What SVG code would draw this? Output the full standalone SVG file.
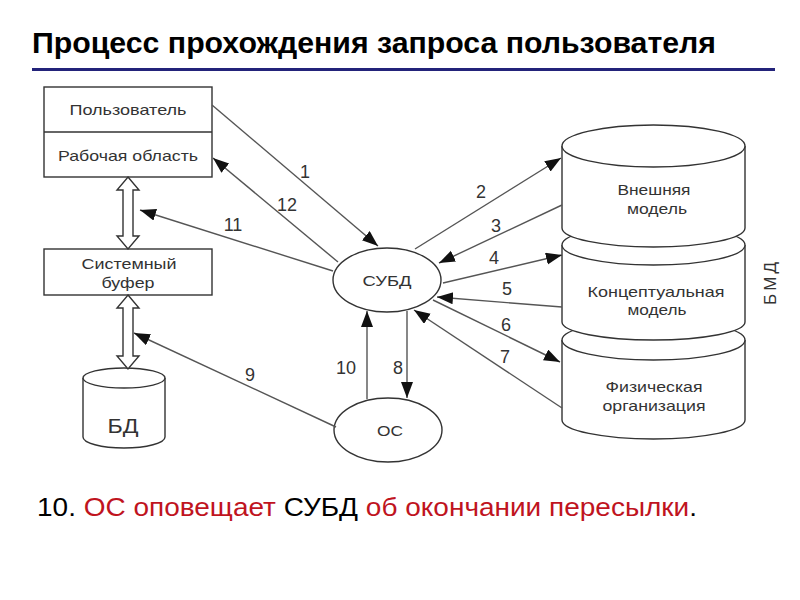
<svg xmlns="http://www.w3.org/2000/svg" width="800" height="600" viewBox="0 0 800 600">
<style>
.title{font-family:"Liberation Sans",Arial,sans-serif;font-weight:bold;font-size:29px;fill:#000}
.lbl{font-family:"Liberation Sans",Arial,sans-serif;font-size:15px;fill:#333;text-anchor:middle}
.num{font-family:"Liberation Sans",Arial,sans-serif;font-size:18px;fill:#333;text-anchor:middle}
.shape{fill:#fff;stroke:#333;stroke-width:1.4}
.conn{fill:none;stroke:#555;stroke-width:1.4;marker-end:url(#ah)}
.cap{font-family:"Liberation Sans",Arial,sans-serif;font-size:26px;fill:#000}
.red{fill:#c0141e}
</style>
<defs>
<marker id="ah" markerUnits="userSpaceOnUse" markerWidth="18" markerHeight="14" refX="16" refY="6" orient="auto">
<path d="M0,0 L16,6 L0,12 z" fill="#111"/>
</marker>
</defs>
<rect width="800" height="600" fill="#fff"/>
<text class="title" x="32" y="53" textLength="684" lengthAdjust="spacingAndGlyphs">Процесс прохождения запроса пользователя</text>
<line x1="32" y1="69.5" x2="775" y2="69.5" stroke="#23237a" stroke-width="3"/>

<g id="user-box">
<rect class="shape" x="44" y="87" width="168" height="90"/>
<line x1="44" y1="132" x2="212" y2="132" stroke="#333" stroke-width="1.4"/>
<text class="lbl" x="128" y="115" textLength="117" lengthAdjust="spacingAndGlyphs">Пользователь</text>
<text class="lbl" x="128" y="161" textLength="140" lengthAdjust="spacingAndGlyphs">Рабочая область</text>
</g>
<g id="sysbuf">
<rect class="shape" x="44" y="249" width="168" height="46"/>
<text class="lbl" x="129" y="269" textLength="95" lengthAdjust="spacingAndGlyphs">Системный</text>
<text class="lbl" x="128" y="288" textLength="53" lengthAdjust="spacingAndGlyphs">буфер</text>
</g>
<g id="bd">
<path class="shape" d="M83,378 L83,437 A41,11 0 0 0 165,437 L165,378"/>
<ellipse class="shape" cx="124" cy="378" rx="41" ry="10"/>
<text class="lbl" x="123" y="433" style="font-size:21px" textLength="31" lengthAdjust="spacingAndGlyphs">БД</text>
</g>
<g id="dbl-arrows">
<polygon class="shape" points="128,177 139,190 133,190 133,236 139,236 128,249 117,236 123,236 123,190 117,190"/>
<polygon class="shape" points="128,295 139,308 133,308 133,356 139,356 128,369 117,356 123,356 123,308 117,308"/>
</g>
<g id="subd">
<ellipse class="shape" cx="387" cy="280" rx="54" ry="32"/>
<text class="lbl" x="387" y="286" textLength="49" lengthAdjust="spacingAndGlyphs">СУБД</text>
</g>
<g id="os">
<ellipse class="shape" cx="388" cy="430" rx="54" ry="32"/>
<text class="lbl" x="390" y="436" textLength="26" lengthAdjust="spacingAndGlyphs">ОС</text>
</g>
<g id="cyl3">
<path class="shape" d="M562,340 L562,420 A91.5,19 0 0 0 745,420 L745,340"/>
<ellipse class="shape" cx="653.5" cy="340" rx="91.5" ry="20"/>
<text class="lbl" x="654" y="392" textLength="97" lengthAdjust="spacingAndGlyphs">Физическая</text>
<text class="lbl" x="654" y="411" textLength="103" lengthAdjust="spacingAndGlyphs">организация</text>
</g>
<g id="cyl2">
<path class="shape" d="M562,245 L562,322 A91.5,18 0 0 0 745,322 L745,245"/>
<ellipse class="shape" cx="653.5" cy="245" rx="91.5" ry="20"/>
<text class="lbl" x="656" y="297" textLength="137" lengthAdjust="spacingAndGlyphs">Концептуальная</text>
<text class="lbl" x="657" y="315" textLength="59" lengthAdjust="spacingAndGlyphs">модель</text>
</g>
<g id="cyl1">
<path class="shape" d="M562,146 L562,228 A91.5,19 0 0 0 745,228 L745,146"/>
<ellipse class="shape" cx="653.5" cy="146" rx="91.5" ry="21"/>
<text class="lbl" x="654" y="195" textLength="73" lengthAdjust="spacingAndGlyphs">Внешняя</text>
<text class="lbl" x="657" y="214" textLength="60" lengthAdjust="spacingAndGlyphs">модель</text>
</g>
<g id="bmd">
<text class="lbl" transform="translate(776,282) rotate(-90)" style="font-size:17px;letter-spacing:3px">БМД</text>
</g>

<g id="connectors">
<line class="conn" x1="212" y1="105" x2="378" y2="246"/>
<line class="conn" x1="338" y1="262" x2="213" y2="158"/>
<line class="conn" x1="333" y1="271" x2="140" y2="210"/>
<line class="conn" x1="415" y1="249" x2="561" y2="158"/>
<line class="conn" x1="562" y1="205" x2="439" y2="263"/>
<line class="conn" x1="443" y1="283" x2="562" y2="255"/>
<line class="conn" x1="562" y1="307" x2="437" y2="297"/>
<line class="conn" x1="433" y1="300" x2="560" y2="362"/>
<line class="conn" x1="562" y1="408" x2="414" y2="310"/>
<line class="conn" x1="407" y1="311" x2="407" y2="398"/>
<line class="conn" x1="367" y1="399" x2="367" y2="311"/>
<line class="conn" x1="336" y1="427" x2="134" y2="333"/>
</g>
<g id="labels">
<text class="num" x="305" y="178">1</text>
<text class="num" x="287" y="211">12</text>
<text class="num" x="233" y="231">11</text>
<text class="num" x="481" y="198">2</text>
<text class="num" x="496" y="232">3</text>
<text class="num" x="494" y="264">4</text>
<text class="num" x="507" y="295">5</text>
<text class="num" x="506" y="331">6</text>
<text class="num" x="505" y="363">7</text>
<text class="num" x="346" y="374">10</text>
<text class="num" x="398" y="374">8</text>
<text class="num" x="250" y="381">9</text>
</g>
<text class="cap" x="37" y="516" textLength="660" lengthAdjust="spacingAndGlyphs">10. <tspan class="red">ОС оповещает</tspan> СУБД <tspan class="red">об окончании пересылки</tspan>.</text>
</svg>
